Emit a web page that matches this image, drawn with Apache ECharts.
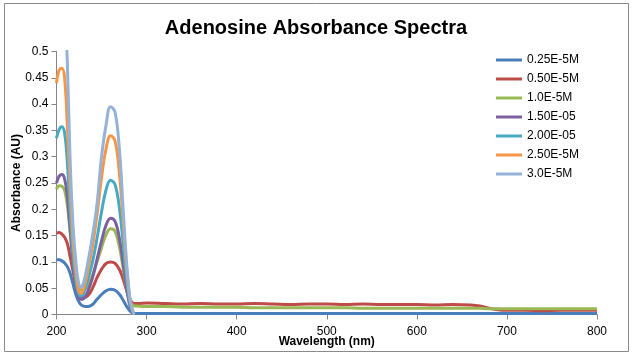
<!DOCTYPE html>
<html>
<head>
<meta charset="utf-8">
<script src="https://cdn.jsdelivr.net/npm/echarts@6/dist/echarts.min.js"></script>
<style>
html,body{margin:0;padding:0;background:#fff;}
#chart{width:632px;height:355px;}
</style>
</head>
<body>
<div id="chart"></div>
<script>
// ---- data ----
const chartTitle = 'Adenosine Absorbance Spectra';
const xAxisTitle = 'Wavelength (nm)';
const yAxisTitle = 'Absorbance (AU)';
const seriesNames = ['0.25E-5M', '0.50E-5M', '1.0E-5M', '1.50E-05', '2.00E-05', '2.50E-5M', '3.0E-5M'];
const seriesColors = ['#4A7EBB', '#BE4B48', '#98B954', '#7D60A0', '#46AAC5', '#F79646', '#95B3D7'];

// wavelengths for the UV region (nm)
const wlPeak = [200, 203, 206, 209, 212, 215, 218, 221, 224, 227, 230, 235, 240, 245, 250, 255, 260, 265, 270, 274, 278, 282, 286];
// wavelengths for the flat tail (nm)
const wlTail = [290, 300, 320, 340, 360, 380, 400, 420, 440, 460, 480, 500, 520, 540, 560, 580, 600, 620, 640, 660, 670, 680, 690, 700, 720, 740, 760, 780, 800];

const abs025Peak = [0.104, 0.104, 0.102, 0.098, 0.091, 0.079, 0.060, 0.041, 0.027, 0.019, 0.016, 0.015, 0.019, 0.029, 0.038, 0.045, 0.048, 0.046, 0.038, 0.027, 0.015, 0.006, 0.002];
const abs050Peak = [0.155, 0.156, 0.153, 0.147, 0.135, 0.111, 0.085, 0.060, 0.043, 0.034, 0.032, 0.036, 0.050, 0.070, 0.086, 0.097, 0.100, 0.097, 0.085, 0.067, 0.045, 0.027, 0.021];
const abs10Peak  = [0.238, 0.245, 0.244, 0.236, 0.208, 0.160, 0.110, 0.072, 0.053, 0.047, 0.047, 0.056, 0.075, 0.100, 0.127, 0.152, 0.163, 0.158, 0.127, 0.088, 0.048, 0.022, 0.017];
const abs15Peak  = [0.250, 0.263, 0.266, 0.258, 0.225, 0.165, 0.105, 0.062, 0.037, 0.029, 0.030, 0.045, 0.070, 0.105, 0.140, 0.170, 0.183, 0.177, 0.143, 0.097, 0.048, 0.013, 0.000];
const abs20Peak  = [0.335, 0.352, 0.357, 0.345, 0.290, 0.200, 0.120, 0.070, 0.042, 0.035, 0.040, 0.068, 0.100, 0.145, 0.195, 0.237, 0.255, 0.247, 0.200, 0.135, 0.065, 0.018, 0.000];
const abs25Peak  = [0.440, 0.465, 0.468, 0.450, 0.360, 0.250, 0.150, 0.090, 0.050, 0.040, 0.048, 0.085, 0.130, 0.190, 0.260, 0.315, 0.340, 0.330, 0.265, 0.175, 0.085, 0.025, 0.000];
const abs30Peak  = [0.600, 0.640, 0.650, 0.600, 0.480, 0.300, 0.180, 0.110, 0.065, 0.052, 0.060, 0.100, 0.150, 0.210, 0.300, 0.360, 0.395, 0.385, 0.310, 0.200, 0.095, 0.025, 0.000];

const abs025Tail = [0.002, 0.002, 0.002, 0.002, 0.002, 0.002, 0.002, 0.002, 0.002, 0.002, 0.002, 0.002, 0.002, 0.002, 0.002, 0.002, 0.002, 0.002, 0.002, 0.002, 0.002, 0.002, 0.002, 0.002, 0.002, 0.002, 0.002, 0.002, 0.002];
const abs050Tail = [0.021, 0.022, 0.021, 0.020, 0.021, 0.020, 0.020, 0.021, 0.020, 0.019, 0.020, 0.020, 0.019, 0.020, 0.019, 0.019, 0.019, 0.018, 0.019, 0.018, 0.016, 0.012, 0.009, 0.008, 0.008, 0.007, 0.008, 0.008, 0.008];
const abs10Tail  = [0.016, 0.015, 0.015, 0.014, 0.014, 0.014, 0.014, 0.013, 0.013, 0.013, 0.013, 0.013, 0.013, 0.012, 0.012, 0.012, 0.012, 0.012, 0.012, 0.012, 0.012, 0.011, 0.011, 0.011, 0.011, 0.011, 0.011, 0.011, 0.011];

const xTicks = [200, 300, 400, 500, 600, 700, 800];
const yTickStep = 0.05;

// ---- build ----
function pairs(xs, ys) { return xs.map((x, i) => [x, ys[i]]); }
const seriesData = [
  pairs(wlPeak, abs025Peak).concat(pairs(wlTail, abs025Tail)),
  pairs(wlPeak, abs050Peak).concat(pairs(wlTail, abs050Tail)),
  pairs(wlPeak, abs10Peak).concat(pairs(wlTail, abs10Tail)),
  pairs(wlPeak, abs15Peak),
  pairs(wlPeak, abs20Peak),
  pairs(wlPeak, abs25Peak),
  pairs(wlPeak, abs30Peak)
];

const font = '"Liberation Sans", Arial, sans-serif';
const chart = echarts.init(document.getElementById('chart'), null, {renderer: 'canvas'});
chart.setOption({
  animation: false,
  backgroundColor: '#fff',
  textStyle: {fontFamily: font},
  title: {
    text: chartTitle, left: 'center', top: 18, padding: 0,
    textStyle: {fontFamily: font, fontSize: 20, fontWeight: 'bold', color: '#000'}
  },
  graphic: [{
    type: 'rect', shape: {x: 4.5, y: 3.5, width: 624, height: 348},
    style: {fill: 'none', stroke: '#8a8a8a', lineWidth: 1}, silent: true, z: -1
  }],
  legend: {
    orient: 'vertical', left: 496, top: 53, padding: 0,
    icon: 'rect', itemWidth: 26, itemHeight: 3, itemGap: 5,
    textStyle: {fontFamily: font, fontSize: 12, color: '#000', lineHeight: 14},
    data: seriesNames
  },
  grid: {left: 56.5, right: 35, top: 51.5, bottom: 40.5, containLabel: false, outerBoundsMode: 'none'},
  xAxis: {
    type: 'value', min: xTicks[0], max: xTicks[xTicks.length - 1], interval: 100,
    name: xAxisTitle, nameLocation: 'middle', nameGap: 21, nameMoveOverlap: false,
    nameTextStyle: {fontFamily: font, fontSize: 12, fontWeight: 'bold', color: '#000'},
    axisLine: {lineStyle: {color: '#868686', width: 1}},
    axisTick: {show: true, inside: false, length: 5, lineStyle: {color: '#868686'}},
    axisLabel: {fontFamily: font, fontSize: 12, color: '#000', margin: 11},
    splitLine: {show: false}
  },
  yAxis: {
    type: 'value', min: 0, max: 0.5, interval: yTickStep,
    name: yAxisTitle, nameLocation: 'middle', nameGap: 34, nameRotate: 90, nameMoveOverlap: false,
    nameTextStyle: {fontFamily: font, fontSize: 12, fontWeight: 'bold', color: '#000'},
    axisLine: {show: true, lineStyle: {color: '#868686', width: 1}},
    axisTick: {show: true, inside: false, length: 5, lineStyle: {color: '#868686'}},
    axisLabel: {fontFamily: font, fontSize: 12, color: '#000', margin: 8,
      formatter: v => String(parseFloat(v.toFixed(2)))},
    splitLine: {show: false}
  },
  series: seriesNames.map((n, i) => ({
    name: n, type: 'line', data: seriesData[i], smooth: 0.4,
    showSymbol: false, symbol: 'none', clip: true,
    lineStyle: {color: seriesColors[i], width: 3},
    itemStyle: {color: seriesColors[i]},
    z: 2 + i
  }))
});
</script>
</body>
</html>
